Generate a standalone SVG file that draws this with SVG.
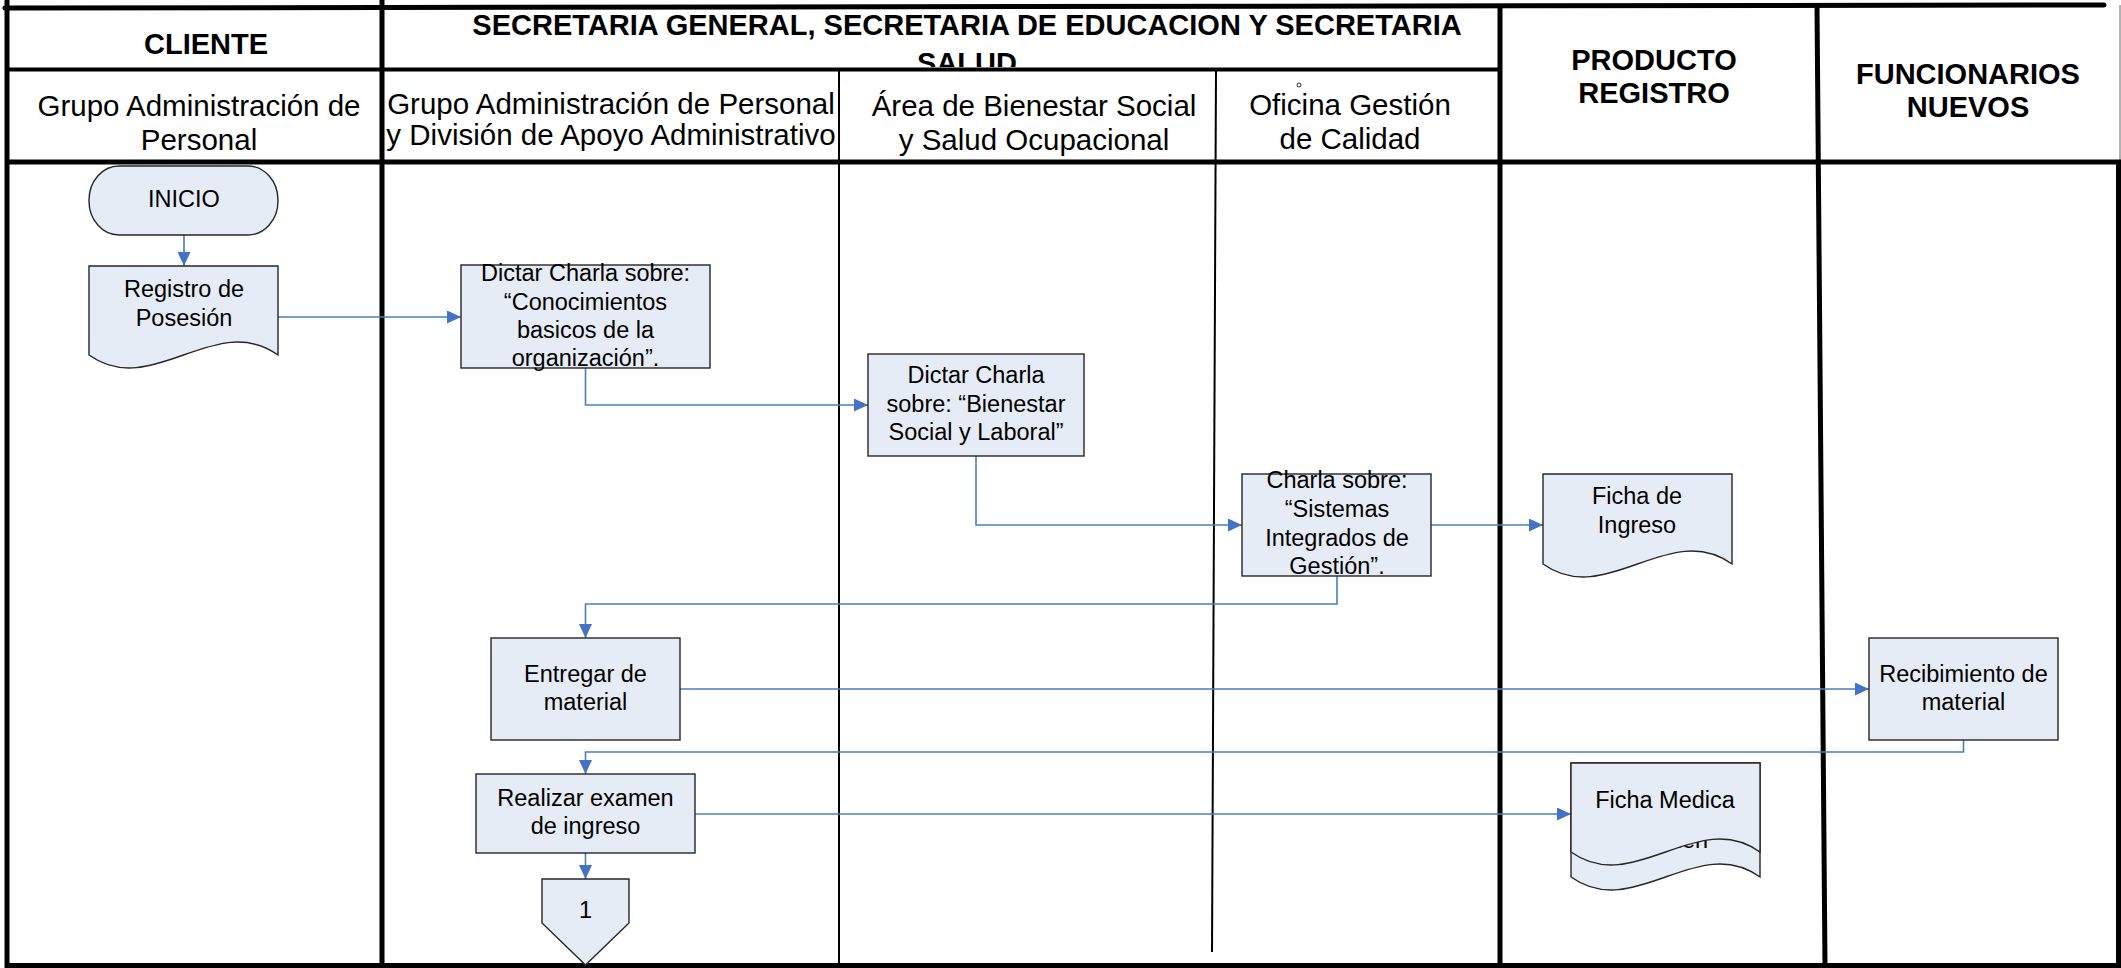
<svg xmlns="http://www.w3.org/2000/svg" width="2121" height="968" viewBox="0 0 2121 968">
<defs>
<style>
.ln{stroke:#000;fill:none}
.hb{font-family:"Liberation Sans",Arial,sans-serif;font-weight:bold;font-size:29px;fill:#000;text-anchor:middle}
.hr{font-family:"Liberation Sans",Arial,sans-serif;font-size:29.5px;fill:#000;text-anchor:middle}
.node{fill:#e6ecf6;stroke:#262626;stroke-width:1.4}
.nt{font-family:"Liberation Sans",Arial,sans-serif;font-size:23.5px;fill:#000;text-anchor:middle}
.conn{fill:none;stroke:#4a7ebb;stroke-width:1.6;marker-end:url(#arr)}
</style>
<marker id="arr" viewBox="0 0 14 13" refX="14" refY="6.5" markerWidth="14" markerHeight="13" markerUnits="userSpaceOnUse" orient="auto">
<path d="M0,0 L14,6.5 L0,13 Z" fill="#4472c4"/>
</marker>
<clipPath id="hdr"><rect x="385" y="0" width="1113" height="67"/></clipPath>
</defs>
<rect x="0" y="0" width="2121" height="968" fill="#fff"/>

<g id="lanes">
<line class="ln" x1="5" y1="8" x2="2104" y2="5" stroke-width="5" stroke-linecap="round"/>
<line class="ln" x1="7" y1="0" x2="7" y2="968" stroke-width="5"/>
<line class="ln" x1="5" y1="965.5" x2="2121" y2="965.5" stroke-width="5"/>
<line class="ln" x1="2118.5" y1="162" x2="2118.5" y2="968" stroke-width="5"/>
<line x1="2120" y1="5" x2="2120" y2="162" stroke="#999" stroke-width="1.5"/>
<line class="ln" x1="7" y1="69.5" x2="1500" y2="69.5" stroke-width="4"/>
<line class="ln" x1="7" y1="162" x2="2121" y2="162" stroke-width="5"/>
<line class="ln" x1="382" y1="0" x2="382" y2="968" stroke-width="5"/>
<line class="ln" x1="839" y1="69" x2="839" y2="966" stroke-width="2"/>
<line class="ln" x1="1216" y1="69" x2="1212" y2="952" stroke-width="2"/>
<line class="ln" x1="1500" y1="5" x2="1500" y2="966" stroke-width="5"/>
<line class="ln" x1="1817" y1="5" x2="1825" y2="966" stroke-width="5"/>
</g>

<g id="headers">
<text class="hb" x="206" y="54" font-size="28.5">CLIENTE</text>
<g clip-path="url(#hdr)">
<text class="hb" x="967" y="35" font-size="29.6">SECRETARIA GENERAL, SECRETARIA DE EDUCACION Y SECRETARIA</text>
<text class="hb" x="967" y="73" font-size="29.6">SALUD</text>
</g>
<text class="hb" x="1654" y="70">PRODUCTO</text>
<text class="hb" x="1654" y="103">REGISTRO</text>
<text class="hb" x="1968" y="84">FUNCIONARIOS</text>
<text class="hb" x="1968" y="117">NUEVOS</text>
<text class="hr" x="199" y="116">Grupo Administración de</text>
<text class="hr" x="199" y="150">Personal</text>
<text class="hr" x="611" y="114" font-size="29.3">Grupo Administración de Personal</text>
<text class="hr" x="611" y="145" font-size="29.3">y División de Apoyo Administrativo</text>
<text class="hr" x="1034" y="116">Área de Bienestar Social</text>
<text class="hr" x="1034" y="150">y Salud Ocupacional</text>
<circle cx="1299" cy="85" r="2" fill="none" stroke="#000" stroke-width="0.8"/>
<text class="hr" x="1350" y="115">Oficina Gestión</text>
<text class="hr" x="1350" y="149">de Calidad</text>
</g>

<g id="connectors">
<path class="conn" d="M184,235 V266"/>
<path class="conn" d="M278,317 H461"/>
<path class="conn" d="M585.5,368 V405 H868"/>
<path class="conn" d="M976,456 V525 H1242"/>
<path class="conn" d="M1431,525 H1543"/>
<path class="conn" d="M1337,576 V604 H585.5 V638"/>
<path class="conn" d="M680,689 H1869"/>
<path class="conn" d="M1963.5,740 V752 H585.5 V774"/>
<path class="conn" d="M695,814 H1571"/>
<path class="conn" d="M585.5,853 V879"/>
</g>

<g id="n-inicio">
<rect class="node" x="89" y="166" width="189" height="69" rx="30" ry="34"/>
<text class="nt" x="184" y="207" font-size="21">INICIO</text>
</g>
<g id="n-registro">
<path class="node" d="M89,266 H278 V355 C215,310 152,400 89,355 Z"/>
<text class="nt" x="184" y="297">Registro de</text>
<text class="nt" x="184" y="326">Posesión</text>
</g>
<g id="n-charla1">
<rect class="node" x="461" y="265" width="249" height="103"/>
<text class="nt" x="585.5" y="281">Dictar Charla sobre:</text>
<text class="nt" x="585.5" y="309.5">“Conocimientos</text>
<text class="nt" x="585.5" y="338">basicos de la</text>
<text class="nt" x="585.5" y="366">organización”.</text>
</g>
<g id="n-charla2">
<rect class="node" x="868" y="354" width="216" height="102"/>
<text class="nt" x="976" y="383">Dictar Charla</text>
<text class="nt" x="976" y="412">sobre: “Bienestar</text>
<text class="nt" x="976" y="440">Social y Laboral”</text>
</g>
<g id="n-charla3">
<rect class="node" x="1242" y="474" width="189" height="102"/>
<text class="nt" x="1337" y="488">Charla sobre:</text>
<text class="nt" x="1337" y="517">“Sistemas</text>
<text class="nt" x="1337" y="546">Integrados de</text>
<text class="nt" x="1337" y="574">Gestión”.</text>
</g>
<g id="n-ficha-ingreso">
<path class="node" d="M1543,474 H1732 V564 C1669,519 1606,609 1543,564 Z"/>
<text class="nt" x="1637" y="504">Ficha de</text>
<text class="nt" x="1637" y="533">Ingreso</text>
</g>
<g id="n-entregar">
<rect class="node" x="491" y="638" width="189" height="102"/>
<text class="nt" x="585.5" y="682">Entregar de</text>
<text class="nt" x="585.5" y="710">material</text>
</g>
<g id="n-recibimiento">
<rect class="node" x="1869" y="638" width="189" height="102"/>
<text class="nt" x="1963.5" y="682">Recibimiento de</text>
<text class="nt" x="1963.5" y="710">material</text>
</g>
<g id="n-realizar">
<rect class="node" x="476" y="774" width="219" height="79"/>
<text class="nt" x="585.5" y="806">Realizar examen</text>
<text class="nt" x="585.5" y="834">de ingreso</text>
</g>
<g id="n-ficha-medica">
<path class="node" d="M1571,763 H1760 V877 C1697,832 1634,922 1571,877 Z"/>
<text class="nt" x="1665" y="848">Examen</text>
<path class="node" d="M1571,763 H1760 V852 C1697,807 1634,897 1571,852 Z"/>
<text class="nt" x="1665" y="808">Ficha Medica</text>
</g>
<g id="n-conector-1">
<polygon class="node" points="542,879 629,879 629,923 585.5,965 542,923"/>
<text class="nt" x="585.5" y="918" font-size="21">1</text>
</g>
</svg>
